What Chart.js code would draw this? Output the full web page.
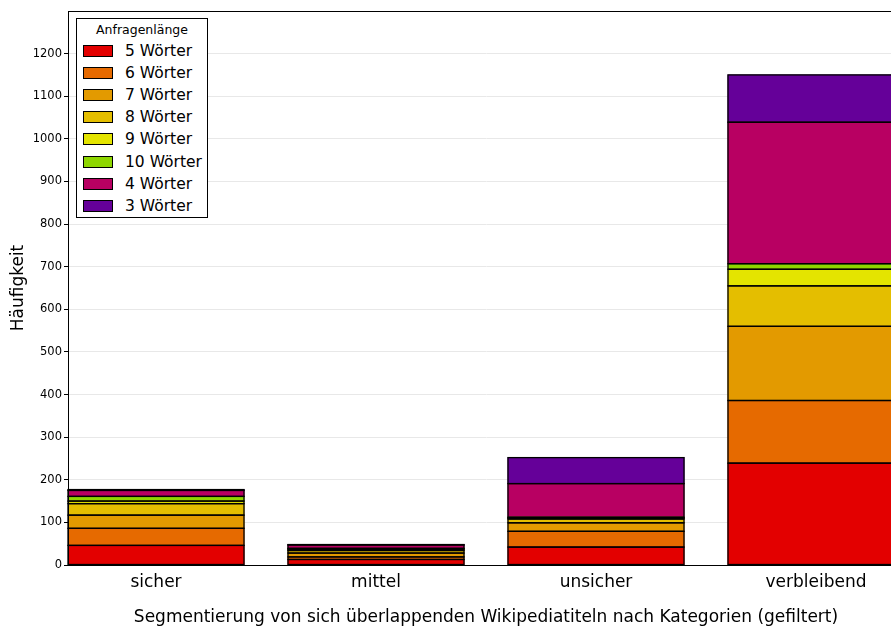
<!DOCTYPE html>
<html>
<head>
<meta charset="utf-8">
<title>Anfragenlänge</title>
<script src="https://cdn.jsdelivr.net/npm/chart.js@4.4.0/dist/chart.umd.min.js"></script>
<style>
html, body { margin: 0; padding: 0; background: #fff; overflow: hidden; }
#wrap { position: relative; width: 891px; height: 630px; overflow: hidden; }
#chart { position: absolute; left: 0; top: 0; }
#legend {
	position: absolute; left: 76px; top: 18px; width: 132px; height: 200px;
	box-sizing: border-box; border: 1px solid #000; background: #fff;
	font-family: "DejaVu Sans", sans-serif; color: #000;
}
#legend .title { position: absolute; left: 0; right: 0; top: 3px; text-align: center; font-size: 12.5px; line-height: 16px; }
#legend .row { position: absolute; left: 0; height: 18px; width: 100%; }
#legend .box { position: absolute; left: 6px; top: 3px; width: 30px; height: 12px; box-sizing: border-box; border: 1px solid #000; }
#legend .txt { position: absolute; left: 48px; top: 0; font-size: 15.5px; line-height: 18px; white-space: nowrap; }
</style>
</head>
<body>
<div id="wrap">
	<canvas id="chart" width="904" height="630"></canvas>
	<div id="legend"></div>
</div>
<script>
var categories = ['sicher', 'mittel', 'unsicher', 'verbleibend'];
var seriesNames = ['5 Wörter', '6 Wörter', '7 Wörter', '8 Wörter', '9 Wörter', '10 Wörter', '4 Wörter', '3 Wörter'];
var seriesColors = ['#e30000', '#e66a00', '#e39a00', '#e4be00', '#e4e400', '#8ed600', '#b80062', '#650099'];

// counts per category, stacked bottom to top in this order
var w5  = [46, 13, 42, 239];
var w6  = [40, 6, 37, 147];
var w7  = [31, 9, 20, 174];
var w8  = [27, 6, 9, 95];
var w9  = [6, 3, 2, 39];
var w10 = [11, 2, 2, 13];
var w4  = [14, 8, 79, 332];
var w3  = [2, 1, 61, 111];

var yTicks = [0, 100, 200, 300, 400, 500, 600, 700, 800, 900, 1000, 1100, 1200];

var series = [w5, w6, w7, w8, w9, w10, w4, w3];

function points(values) {
	return values.map(function(v, i) { return { x: i, y: v }; });
}

var datasets = series.map(function(values, i) {
	return {
		label: seriesNames[i],
		data: points(values),
		backgroundColor: seriesColors[i],
		borderWidth: 0,
		inflateAmount: 0.5,
		barPercentage: 0.8,
		categoryPercentage: 1.0
	};
});

// black edge round every bar segment, centred on its outline
var edges = {
	id: 'edges',
	afterDatasetsDraw: function(chart) {
		var ctx = chart.ctx;
		ctx.save();
		ctx.strokeStyle = '#000';
		ctx.lineWidth = 1.3;
		chart.data.datasets.forEach(function(ds, i) {
			chart.getDatasetMeta(i).data.forEach(function(bar) {
				var p = bar.getProps(['x', 'y', 'base', 'width'], true);
				ctx.strokeRect(p.x - p.width / 2, p.y, p.width, p.base - p.y);
			});
		});
		ctx.restore();
	}
};

// black box round the plot area
var frame = {
	id: 'frame',
	afterDatasetsDraw: function(chart) {
		var a = chart.chartArea, ctx = chart.ctx;
		ctx.save();
		ctx.strokeStyle = '#000';
		ctx.lineWidth = 1;
		ctx.strokeRect(a.left + 0.5, a.top + 0.5, a.right - a.left - 1, a.bottom - a.top);
		ctx.restore();
	}
};

var font = 'DejaVu Sans';

var chart = new Chart(document.getElementById('chart').getContext('2d'), {
	type: 'bar',
	data: { datasets: datasets },
	plugins: [edges, frame],
	options: {
		responsive: false,
		animation: false,
		devicePixelRatio: 1,
		layout: { padding: { top: 11, left: 0, right: 0, bottom: 0 } },
		plugins: { legend: { display: false }, tooltip: { enabled: false } },
		scales: {
			x: {
				type: 'linear',
				stacked: true,
				min: -0.4,
				max: 3.4,
				offset: false,
				grid: { display: false, drawTicks: false },
				border: { display: true, color: '#000', width: 1 },
				afterBuildTicks: function(scale) {
					scale.ticks = categories.map(function(c, i) { return { value: i }; });
				},
				afterFit: function(scale) { scale.height = 65; },
				ticks: {
					autoSkip: false,
					maxRotation: 0,
					padding: 7,
					color: '#000',
					font: { family: font, size: 17 },
					callback: function(v) { return categories[v]; }
				},
				title: {
					display: true,
					text: 'Segmentierung von sich überlappenden Wikipediatiteln nach Kategorien (gefiltert)',
					color: '#000',
					font: { family: font, size: 17 },
					padding: { top: 0, bottom: 2 }
				}
			},
			y: {
				stacked: true,
				min: 0,
				max: 1300,
				grid: { color: '#e8e8e8', lineWidth: 1, tickLength: 4, tickColor: '#000' },
				border: { display: true, color: '#000', width: 1 },
				afterBuildTicks: function(scale) {
					scale.ticks = yTicks.map(function(v) { return { value: v }; });
				},
				afterFit: function(scale) { scale.width = 68; },
				ticks: {
					padding: 2,
					color: '#000',
					font: { family: font, size: 11.5 },
					callback: function(v) { return String(v); }
				},
				title: {
					display: true,
					text: 'Häufigkeit',
					color: '#000',
					font: { family: font, size: 17 },
					padding: { top: 8, bottom: 0 }
				}
			}
		}
	}
});

// legend box inside the plot, built from the chart's datasets
(function buildLegend() {
	var el = document.getElementById('legend');
	var title = document.createElement('div');
	title.className = 'title';
	title.textContent = 'Anfragenlänge';
	el.appendChild(title);
	chart.data.datasets.forEach(function(ds, i) {
		var row = document.createElement('div');
		row.className = 'row';
		row.style.top = (23 + i * 22.1) + 'px';
		var box = document.createElement('div');
		box.className = 'box';
		box.style.background = ds.backgroundColor;
		var txt = document.createElement('div');
		txt.className = 'txt';
		txt.textContent = ds.label;
		row.appendChild(box);
		row.appendChild(txt);
		el.appendChild(row);
	});
})();
</script>
</body>
</html>
